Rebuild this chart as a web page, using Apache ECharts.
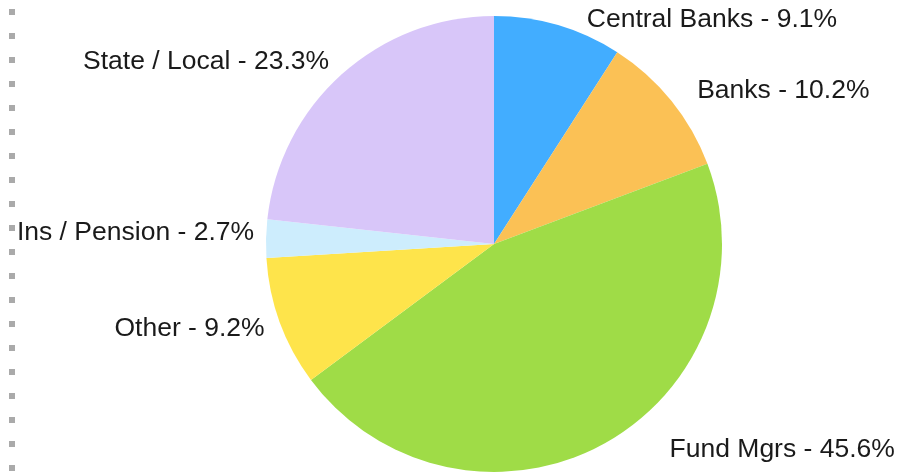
<!DOCTYPE html>
<html>
<head>
<meta charset="utf-8">
<script src="https://cdn.jsdelivr.net/npm/echarts@6/dist/echarts.min.js"></script>
<style>
	html, body { margin: 0; padding: 0; background: #fff; }
	#chart { width: 913px; height: 473px; }
</style>
</head>
<body>
<div id="chart"></div>
<script>
// holders and their share, in percent
var holders = ['Central Banks', 'Banks', 'Fund Mgrs', 'Other', 'Ins / Pension', 'State / Local'];
var shares = [9.1, 10.2, 45.6, 9.2, 2.7, 23.3];
var colors = ['#42adff', '#fbc155', '#9fdc47', '#fee44b', '#cdedfd', '#d8c6f9'];

// how far each label sits out from the rim: [radial, horizontal, vertical nudge]
var labelPull = [[9, 26, 3], [19, 11, 2], [3, 65, 3], [14, 2, 2], [7, 5, -6], [19, 0, 2]];

var chart = echarts.init(document.getElementById('chart'));

var items = holders.map(function(name, i) {
	return {
		name: name,
		value: shares[i],
		itemStyle: { color: colors[i] },
		labelLine: { length: labelPull[i][0], length2: labelPull[i][1] }
	};
});

var option = {
	animation: false,
	graphic: [{
		type: 'line',
		shape: { x1: 12, y1: 9, x2: 12, y2: 473 },
		style: { stroke: '#aaaaaa', lineWidth: 6, lineDash: [6, 18] }
	}],
	series: [{
		type: 'pie',
		center: [494, 244],
		radius: 228,
		startAngle: 90,
		clockwise: true,
		avoidLabelOverlap: false,
		label: {
			show: true,
			position: 'outside',
			distanceToLabelLine: 0,
			fontFamily: 'Liberation Sans, Arial, sans-serif',
			fontSize: 26.5,
			color: '#1a1a1a',
			formatter: function(p) {
				return p.name + ' - ' + p.value.toFixed(1) + '%';
			}
		},
		labelLine: { show: false },
		labelLayout: function(p) {
			return { dy: labelPull[p.dataIndex][2] };
		},
		emphasis: { disabled: true },
		data: items
	}]
};
chart.setOption(option);
</script>
</body>
</html>
